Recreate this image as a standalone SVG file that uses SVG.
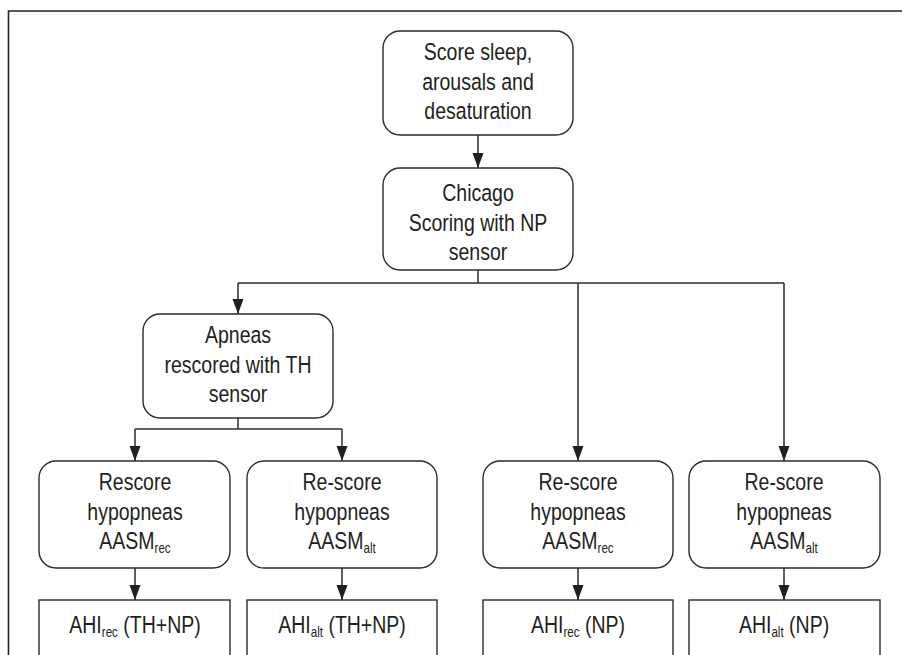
<svg xmlns="http://www.w3.org/2000/svg" width="902" height="655" viewBox="0 0 902 655">
<defs>
<style>
.box{fill:#fff;stroke:#2b2b2b;stroke-width:1.4}
.t{font-family:"Liberation Sans",Arial,sans-serif;font-size:23.5px;fill:#231f20;text-anchor:middle}
.sub{font-size:14px}
.c{fill:none;stroke:#2b2b2b;stroke-width:1.5}
.frame{fill:none;stroke:#222;stroke-width:1.6}
</style>
<marker id="ah" markerUnits="userSpaceOnUse" markerWidth="15" markerHeight="12" refX="15" refY="6" orient="auto">
<path d="M0,0.5 L15,6 L0,11.5 z" fill="#231f20"/>
</marker>
</defs>
<rect width="902" height="655" fill="#fff"/>
<path class="frame" d="M8.5,655 V11 H902"/>
<g id="connectors">
<line class="c" x1="478" y1="135" x2="478" y2="168" marker-end="url(#ah)"/>
<polyline class="c" points="478,270 478,283"/>
<polyline class="c" points="238,283 784,283"/>
<line class="c" x1="238" y1="283" x2="238" y2="314" marker-end="url(#ah)"/>
<line class="c" x1="578" y1="283" x2="578" y2="461" marker-end="url(#ah)"/>
<line class="c" x1="784" y1="283" x2="784" y2="461" marker-end="url(#ah)"/>
<polyline class="c" points="238,418 238,429"/>
<polyline class="c" points="135,429 342,429"/>
<line class="c" x1="135" y1="429" x2="135" y2="461" marker-end="url(#ah)"/>
<line class="c" x1="342" y1="429" x2="342" y2="461" marker-end="url(#ah)"/>
<line class="c" x1="135" y1="568" x2="135" y2="600" marker-end="url(#ah)"/>
<line class="c" x1="342" y1="568" x2="342" y2="600" marker-end="url(#ah)"/>
<line class="c" x1="578" y1="568" x2="578" y2="600" marker-end="url(#ah)"/>
<line class="c" x1="784" y1="568" x2="784" y2="600" marker-end="url(#ah)"/>
</g>
<g id="n-score">
<rect class="box" x="383" y="31" width="190" height="104" rx="17"/>
<g transform="translate(478,0) scale(0.83,1)">
<text class="t" x="0" y="60">Score sleep,</text>
<text class="t" x="0" y="90">arousals and</text>
<text class="t" x="0" y="119">desaturation</text>
</g>
</g>
<g id="n-chicago">
<rect class="box" x="383" y="168" width="190" height="102" rx="17"/>
<g transform="translate(478,0) scale(0.83,1)">
<text class="t" x="0" y="201">Chicago</text>
<text class="t" x="0" y="231">Scoring with NP</text>
<text class="t" x="0" y="260">sensor</text>
</g>
</g>
<g id="n-apneas">
<rect class="box" x="143" y="314" width="190" height="104" rx="17"/>
<g transform="translate(238,0) scale(0.83,1)">
<text class="t" x="0" y="343">Apneas</text>
<text class="t" x="0" y="373">rescored with TH</text>
<text class="t" x="0" y="402">sensor</text>
</g>
</g>
<g id="n-rescore-rec-th">
<rect class="box" x="39" y="461" width="191" height="107" rx="17"/>
<g transform="translate(135,0) scale(0.83,1)">
<text class="t" x="0" y="490">Rescore</text>
<text class="t" x="0" y="520">hypopneas</text>
<text class="t" x="0" y="549">AASM<tspan class="sub" dy="4">rec</tspan></text>
</g>
</g>
<g id="n-rescore-alt-th">
<rect class="box" x="247" y="461" width="190" height="107" rx="17"/>
<g transform="translate(342,0) scale(0.83,1)">
<text class="t" x="0" y="490">Re-score</text>
<text class="t" x="0" y="520">hypopneas</text>
<text class="t" x="0" y="549">AASM<tspan class="sub" dy="4">alt</tspan></text>
</g>
</g>
<g id="n-rescore-rec-np">
<rect class="box" x="483" y="461" width="190" height="107" rx="17"/>
<g transform="translate(578,0) scale(0.83,1)">
<text class="t" x="0" y="490">Re-score</text>
<text class="t" x="0" y="520">hypopneas</text>
<text class="t" x="0" y="549">AASM<tspan class="sub" dy="4">rec</tspan></text>
</g>
</g>
<g id="n-rescore-alt-np">
<rect class="box" x="689" y="461" width="191" height="107" rx="17"/>
<g transform="translate(784,0) scale(0.83,1)">
<text class="t" x="0" y="490">Re-score</text>
<text class="t" x="0" y="520">hypopneas</text>
<text class="t" x="0" y="549">AASM<tspan class="sub" dy="4">alt</tspan></text>
</g>
</g>
<g id="n-ahi-rec-th">
<rect class="box" x="39" y="600" width="191" height="70"/>
<g transform="translate(135,0) scale(0.83,1)">
<text class="t" x="0" y="633">AHI<tspan class="sub" dy="4">rec</tspan><tspan dy="-4"> (TH+NP)</tspan></text>
</g>
</g>
<g id="n-ahi-alt-th">
<rect class="box" x="247" y="600" width="190" height="70"/>
<g transform="translate(342,0) scale(0.83,1)">
<text class="t" x="0" y="633">AHI<tspan class="sub" dy="4">alt</tspan><tspan dy="-4"> (TH+NP)</tspan></text>
</g>
</g>
<g id="n-ahi-rec-np">
<rect class="box" x="483" y="600" width="190" height="70"/>
<g transform="translate(578,0) scale(0.83,1)">
<text class="t" x="0" y="633">AHI<tspan class="sub" dy="4">rec</tspan><tspan dy="-4"> (NP)</tspan></text>
</g>
</g>
<g id="n-ahi-alt-np">
<rect class="box" x="689" y="600" width="191" height="70"/>
<g transform="translate(784,0) scale(0.83,1)">
<text class="t" x="0" y="633">AHI<tspan class="sub" dy="4">alt</tspan><tspan dy="-4"> (NP)</tspan></text>
</g>
</g>
</svg>
